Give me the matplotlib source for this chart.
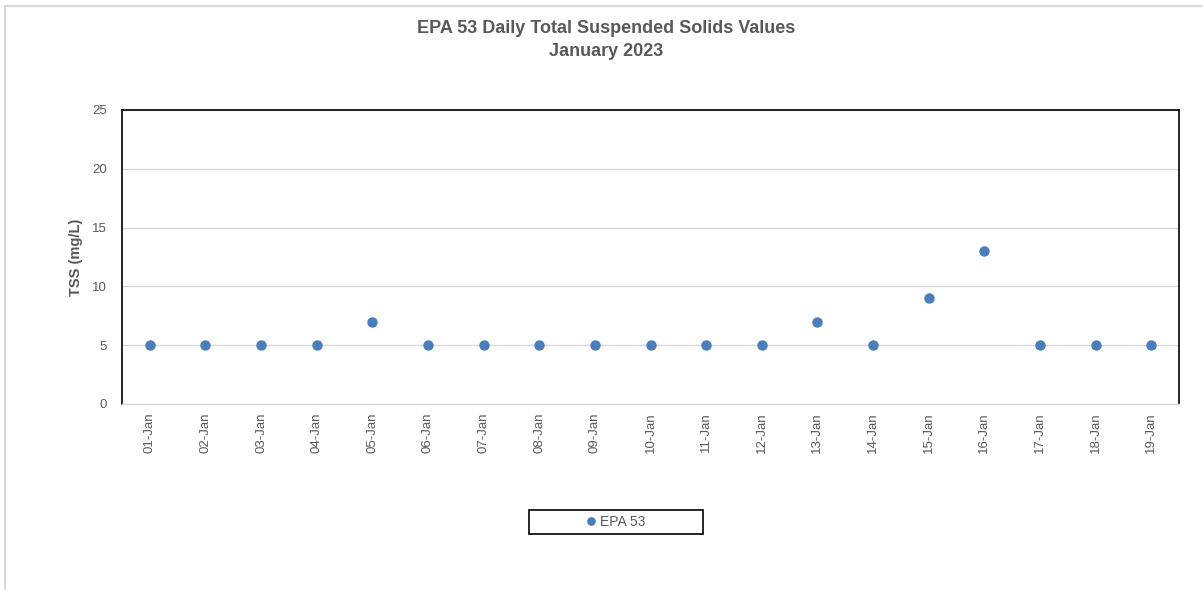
import matplotlib
matplotlib.use('Agg')
import matplotlib.pyplot as plt
from matplotlib.patches import Rectangle

# chart data
DAYS = ['01-Jan', '02-Jan', '03-Jan', '04-Jan', '05-Jan', '06-Jan', '07-Jan',
        '08-Jan', '09-Jan', '10-Jan', '11-Jan', '12-Jan', '13-Jan', '14-Jan',
        '15-Jan', '16-Jan', '17-Jan', '18-Jan', '19-Jan']
TSS = [5, 5, 5, 5, 7, 5, 5, 5, 5, 5, 5, 5, 7, 5, 9, 13, 5, 5, 5]
YTICKS = [0, 5, 10, 15, 20, 25]

TITLE = 'EPA 53 Daily Total Suspended Solids Values\nJanuary 2023'
YLABEL = 'TSS (mg/L)'
SERIES = 'EPA 53'

W, H = 1203, 590
plt.rcParams['font.family'] = ['Liberation Sans', 'DejaVu Sans']

fig = plt.figure(figsize=(W / 100, H / 100), dpi=100)

# outer chart frame (light grey, only top/left visible)
fig.patches.append(Rectangle((5 / W, -0.1), 1.2, 1 - 6 / H + 0.1,
                             transform=fig.transFigure, fill=False,
                             edgecolor='#d9d9d9', linewidth=1.5))

# legend frame drawn by hand so it can be as wide as in the reference
fig.patches.append(Rectangle((529 / W, 1 - 534 / H), 174 / W, 24 / H,
                             transform=fig.transFigure, fill=False,
                             edgecolor='black', linewidth=1.2))

# axes placement in pixels
left, right, top, bottom = 122, 1179, 110, 404
ax = fig.add_axes([left / W, 1 - bottom / H, (right - left) / W, (bottom - top) / H])

x = [i + 0.5 for i in range(len(DAYS))]
ax.plot(x, TSS, linestyle='none', marker='o', markersize=6.5,
        color='#4a7ebb', label=SERIES, zorder=3)

ax.set_xlim(0, len(DAYS))
ax.set_ylim(0, 25)
ax.set_xticks(x)
ax.set_xticklabels(DAYS, rotation=90, fontsize=9.5, color='#595959')
ax.set_yticks(YTICKS)
ax.set_yticklabels([str(v) for v in YTICKS], fontsize=9.5, color='#595959')
ax.tick_params(axis='both', length=0, pad=6)
ax.tick_params(axis='y', pad=11)

ax.grid(axis='y', color='#d9d9d9', linewidth=1)
ax.set_axisbelow(True)

for side in ['left', 'top', 'right']:
    ax.spines[side].set_color('black')
    ax.spines[side].set_linewidth(1.2)
ax.spines['bottom'].set_color('#d9d9d9')
ax.spines['bottom'].set_linewidth(1)

ax.set_ylabel(YLABEL, fontsize=10.5, fontweight='bold', color='#595959', labelpad=0)
ax.yaxis.set_label_coords((83 - left) / (right - left), 0.5)

fig.text(606 / W, 1 - 40 / H, TITLE, ha='center', va='center', fontsize=13,
         fontweight='bold', color='#595959', linespacing=1.4)

leg = fig.legend(loc='center', bbox_to_anchor=(616 / W, 1 - 522 / H),
                 frameon=False, fontsize=10,
                 handlelength=0.6, handletextpad=0.3, borderpad=0.35,
                 markerscale=0.8)
for t in leg.get_texts():
    t.set_color('#595959')

fig.savefig('out.png', dpi=100)
